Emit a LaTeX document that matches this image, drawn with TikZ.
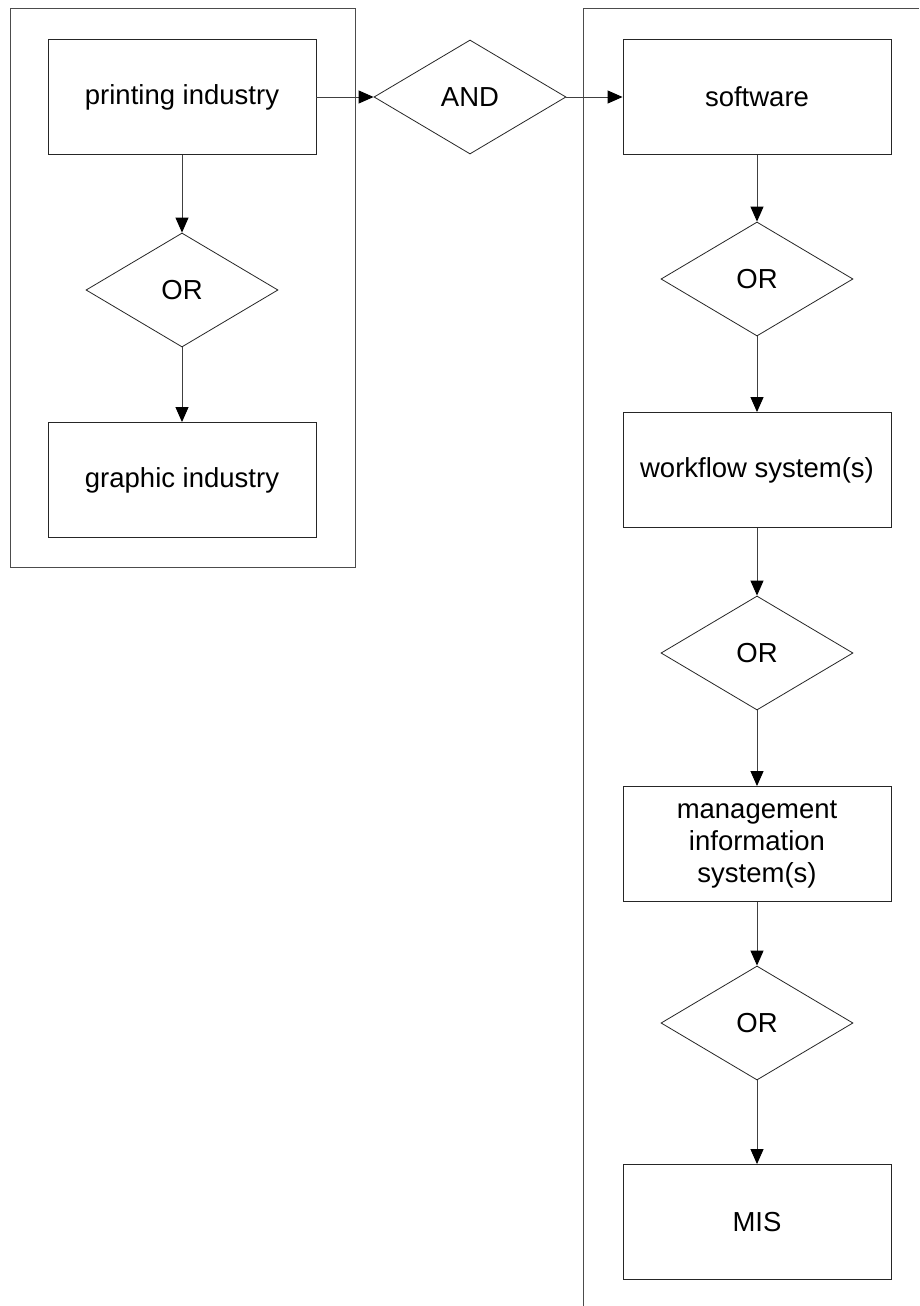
\documentclass[tikz,border=0pt]{standalone}
\usepackage{fontspec}
\setmainfont{Liberation Sans}
\usetikzlibrary{shapes.geometric,arrows.meta}
\begin{document}
\begin{tikzpicture}[x=1pt,y=-1pt,
  box/.style={draw=black!85,line width=0.9pt,rectangle,minimum width=268pt,minimum height=115pt,inner sep=0pt,align=center,font=\fontsize{27.5}{32}\selectfont},
  gate/.style={draw=black!85,line width=0.8pt,diamond,minimum width=192pt,minimum height=114pt,inner sep=0pt,font=\fontsize{27.5}{32}\selectfont},
  link/.style={draw=black!75,line width=1pt,-{Triangle[length=15pt,width=13pt,color=black]}},
  frame/.style={draw=black!70,line width=0.9pt}]
\fill[white] (0,0) rectangle (919,1306);
\useasboundingbox (0,0) rectangle (919,1306);
% containers
\draw[frame] (10,8) rectangle (355,567);
\draw[frame] (583,1306) -- (583,8) -- (919,8);
% nodes
\node[box] (pi) at (182,97) {printing industry};
\node[gate] (and) at (470,97) {AND};
\node[box] (sw) at (757,97) {software};
\node[gate] (or1) at (182,290) {OR};
\node[box] (gi) at (182,480) {graphic industry};
\node[gate] (or2) at (757,279) {OR};
\node[box] (wf) at (757,470) {workflow system(s)};
\node[gate] (or3) at (757,653) {OR};
\node[box] (mi) at (757,844) {management\\information\\system(s)};
\node[gate] (or4) at (757,1023) {OR};
\node[box] (mis) at (757,1222) {MIS};
% connectors
\draw[link] (pi) -- (and);
\draw[link] (and) -- (sw);
\draw[link] (pi) -- (or1);
\draw[link] (or1) -- (gi);
\draw[link] (sw) -- (or2);
\draw[link] (or2) -- (wf);
\draw[link] (wf) -- (or3);
\draw[link] (or3) -- (mi);
\draw[link] (mi) -- (or4);
\draw[link] (or4) -- (mis);
\end{tikzpicture}
\end{document}
